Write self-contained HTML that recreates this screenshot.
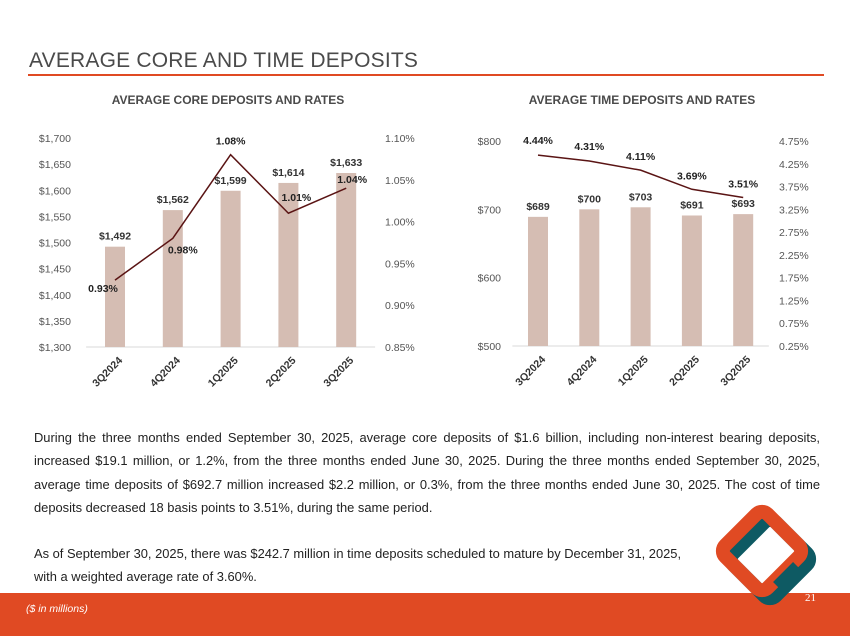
<!DOCTYPE html>
<html><head><meta charset="utf-8"><style>
body{margin:0;width:850px;height:636px;position:relative;background:#fff;font-family:"Liberation Sans",sans-serif;overflow:hidden}
.t{position:absolute}
p{margin:0}
</style></head><body>
<div class="t" style="left:29px;top:49px;font-size:21px;color:#4a4a4a;letter-spacing:0.2px">AVERAGE CORE AND TIME DEPOSITS</div>
<div class="t" style="left:28px;top:74px;width:796px;height:2px;background:#e04a23"></div>
<svg class="t" style="left:0;top:0" width="850" height="420">
<g id="left"></g>
<g id="right"></g>
</svg>
<div class="t" style="left:34px;top:426px;width:786px;font-size:12.9px;color:#222;line-height:23.3px;text-align:justify">
<p>During the three months ended September 30, 2025, average core deposits of $1.6 billion, including non-interest bearing deposits, increased $19.1 million, or 1.2%, from the three months ended June 30, 2025. During the three months ended September 30, 2025, average time deposits of $692.7 million increased $2.2 million, or 0.3%, from the three months ended June 30, 2025. The cost of time deposits decreased 18 basis points to 3.51%, during the same period.</p>
<p style="margin-top:23px;text-align:left">As of September 30, 2025, there was $242.7 million in time deposits scheduled to mature by December 31, 2025,<br>with a weighted average rate of 3.60%.</p>
</div>
<div class="t" style="left:0;top:593px;width:850px;height:43px;background:#e04a23"></div>
<div class="t" style="left:26px;top:603px;font-size:10.5px;font-style:italic;color:#fff">($ in millions)</div>
<div class="t" style="left:805px;top:592px;font-size:11px;color:#fff;font-family:'Liberation Serif',serif">21</div>
<svg class="t" style="left:698px;top:495px" width="130" height="120">
<rect x="42" y="34" width="60" height="60" rx="8" transform="rotate(45 72 64)" fill="none" stroke="#0e5a63" stroke-width="14"/>
<rect x="34" y="26" width="60" height="60" rx="8" transform="rotate(45 64 56)" fill="none" stroke="#e04a23" stroke-width="14"/>
<path d="M 80 92 L 100 72" stroke="#0e5a63" stroke-width="14"/>
</svg>
<script>
const cats=["3Q2024","4Q2024","1Q2025","2Q2025","3Q2025"];
const coreVals=[1492,1562,1599,1614,1633];
const coreRates=[0.93,0.98,1.08,1.01,1.04];
const coreTicks=[1300,1350,1400,1450,1500,1550,1600,1650,1700];
const coreRateTicks=[0.85,0.90,0.95,1.00,1.05,1.10];
const timeVals=[689,700,703,691,693];
const timeRates=[4.44,4.31,4.11,3.69,3.51];
const timeTicks=[500,600,700,800];
const timeRateTicks=[0.25,0.75,1.25,1.75,2.25,2.75,3.25,3.75,4.25,4.75];
const NS="http://www.w3.org/2000/svg";
function mk(g,tag,attrs,text){const e=document.createElementNS(NS,tag);for(const k in attrs)e.setAttribute(k,attrs[k]);if(text!==undefined)e.textContent=text;g.appendChild(e);return e;}
function chart(g,o){
  const yL=v=>o.y1-(v-o.lmin)/(o.lmax-o.lmin)*(o.y1-o.y0);
  const yR=v=>o.y1-(v-o.rmin)/(o.rmax-o.rmin)*(o.y1-o.y0);
  const xC=i=>o.x0+i*o.step;
  let t=mk(g,'text',{x:o.titleX,y:104,'font-size':12,'font-weight':'bold',fill:'#4a4a4a','text-anchor':'middle'},o.title);
  
  
  o.lt.forEach(v=>{const e=mk(g,'text',{x:o.lx,y:yL(v)+4,'font-size':10.5,fill:'#555','text-anchor':'end'},o.lf(v));
    
    });
  o.rt.forEach(v=>{const e=mk(g,'text',{x:o.rx,y:yR(v)+4,'font-size':10.5,fill:'#555'},v.toFixed(2)+'%');
    
    });
  const ax=mk(g,'line',{x1:o.x0-o.step/2,x2:xC(4)+o.step/2,y1:o.y1,y2:o.y1,stroke:'#d9d9d9'});
  
  
  cats.forEach((c,i)=>{
    const v=o.vals[i];
    const b=mk(g,'rect',{x:xC(i)-10,y:yL(v),width:20,height:o.y1-yL(v),fill:'#d5bdb3'});
    
    
    const l=mk(g,'text',{x:xC(i),y:yL(v)-7,'font-size':10.5,'font-weight':'bold',fill:'#333','text-anchor':'middle'},'$'+v.toLocaleString('en-US'));
    
    
    const x=mk(g,'text',{x:xC(i)+8,y:o.y1+14,'font-size':10.5,'font-weight':'bold',fill:'#333','text-anchor':'end',transform:`rotate(-45 ${xC(i)+8} ${o.y1+14})`},c);
    
    
  });
  const pts=o.rates.map((r,i)=>xC(i)+','+yR(r)).join(' ');
  const pl=mk(g,'polyline',{points:pts,fill:'none',stroke:'#5a1414','stroke-width':1.5});
  
  
  o.rates.forEach((r,i)=>{const d=o.rd[i];
    const e=mk(g,'text',{x:xC(i)+d[0],y:yR(r)+d[1],'font-size':10.5,'font-weight':'bold',fill:'#222','text-anchor':'middle'},r.toFixed(2)+'%');
    
    });
}
chart(document.getElementById('left'),{title:'AVERAGE CORE DEPOSITS AND RATES',titleX:228,x0:115,step:57.8,y0:138,y1:347,lmin:1300,lmax:1700,rmin:0.85,rmax:1.10,lt:coreTicks,rt:coreRateTicks,lx:71,rx:385,lf:v=>'$'+v.toLocaleString('en-US'),vals:coreVals,rates:coreRates,rd:[[-12,12],[10,15],[0,-10],[8,-12],[6,-5]]});
chart(document.getElementById('right'),{title:'AVERAGE TIME DEPOSITS AND RATES',titleX:642,x0:538,step:51.3,y0:141,y1:346,lmin:500,lmax:800,rmin:0.25,rmax:4.75,lt:timeTicks,rt:timeRateTicks,lx:501,rx:779,lf:v=>'$'+v,vals:timeVals,rates:timeRates,rd:[[0,-11],[0,-11],[0,-10],[0,-10],[0,-10]]});
</script>
</body></html>
